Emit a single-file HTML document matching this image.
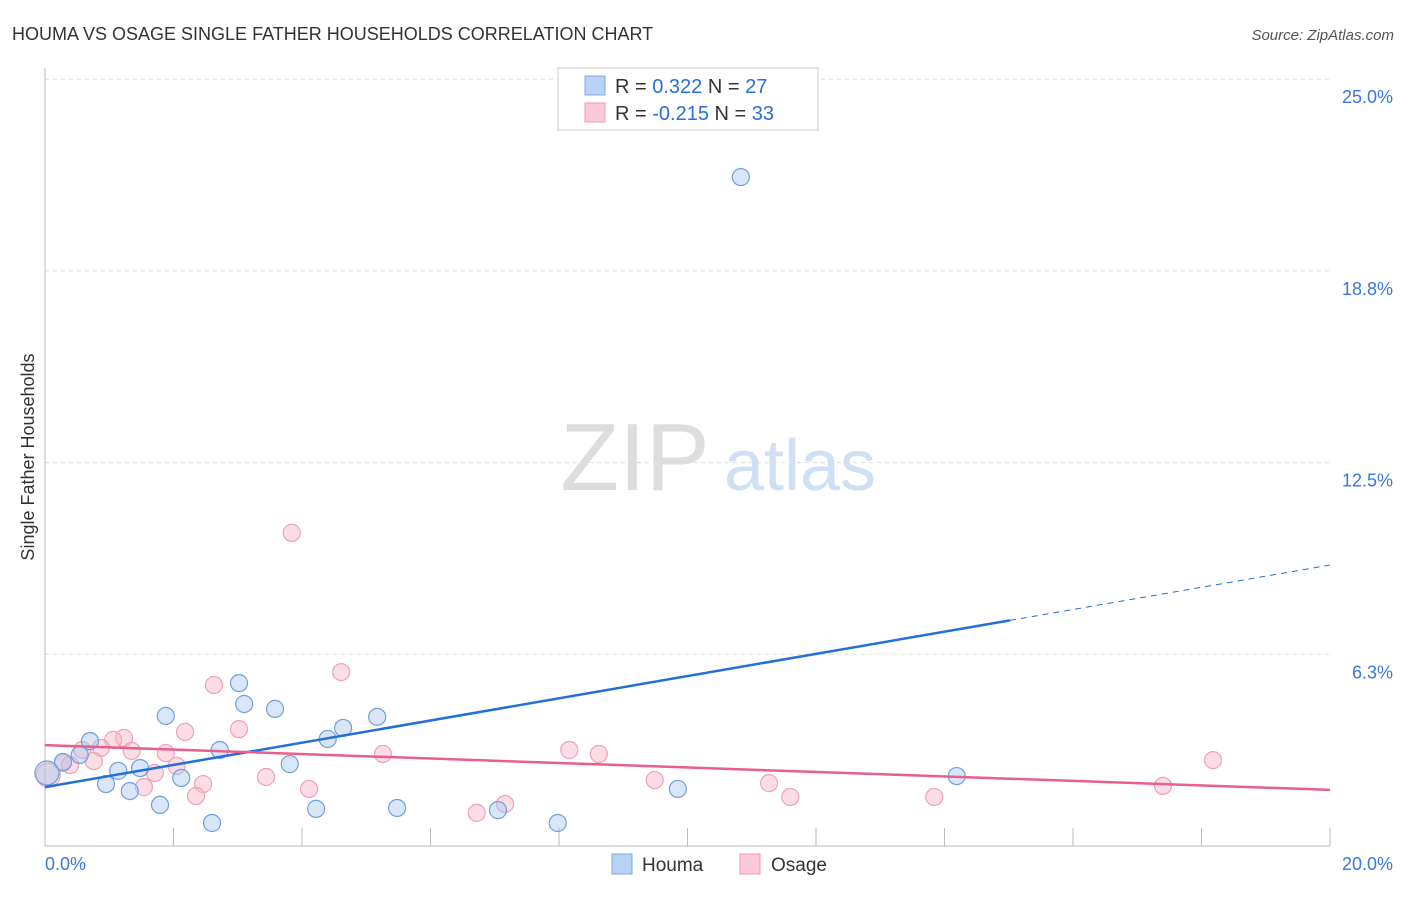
<!DOCTYPE html>
<html><head><meta charset="utf-8"><style>
body{margin:0;background:#fff;font-family:"Liberation Sans",sans-serif;}
svg text{font-family:"Liberation Sans",sans-serif;}
</style></head><body>
<svg id="c" width="1406" height="892">
<text x="12" y="40" font-size="18" fill="#333">HOUMA VS OSAGE SINGLE FATHER HOUSEHOLDS CORRELATION CHART</text>
<text x="1394" y="40" font-size="15" fill="#555" font-style="italic" text-anchor="end">Source: ZipAtlas.com</text>
<text x="34" y="457" font-size="18" fill="#333" text-anchor="middle" transform="rotate(-90 34 457)">Single Father Households</text>
<g><text x="635" y="490" font-size="96" fill="#ddd" font-family="Liberation Serif" text-anchor="middle">ZIP</text><text x="800" y="490" font-size="72" fill="#cfe0f5" text-anchor="middle">atlas</text></g>
<g id="grid"></g><g id="axes"></g><g id="marks"></g>
<g>
<rect x="558" y="68" width="260" height="62" fill="#fff" stroke="#ccc"/>
<rect x="585" y="76" width="20" height="19" fill="#b8d2f5" stroke="#7ea8e0"/>
<rect x="585" y="103" width="20" height="19" fill="#fbc9d8" stroke="#f09ab5"/>
<text x="615" y="93" font-size="20" fill="#333">R = <tspan fill="#2a6fd6"> 0.322</tspan>   N = <tspan fill="#2a6fd6">27</tspan></text>
<text x="615" y="120" font-size="20" fill="#333">R = <tspan fill="#2a6fd6">-0.215</tspan>   N = <tspan fill="#2a6fd6">33</tspan></text>
</g>
<g>
<rect x="612" y="854" width="20" height="20" fill="#b8d2f5" stroke="#7ea8e0"/>
<text x="642" y="871" font-size="19" fill="#333">Houma</text>
<rect x="740" y="854" width="20" height="20" fill="#fbc9d8" stroke="#f09ab5"/>
<text x="771" y="871" font-size="19" fill="#333">Osage</text>
</g>
</svg>
<script>
const yTicks=[6.25,12.5,18.75,25];
const yTickLabels=["6.3%","12.5%","18.8%","25.0%"];
const xTickLabels=["0.0%","20.0%"];
const houmaX=[10.83,3.02,1.88,3.10,3.58,5.17,4.64,0.70,4.40,2.72,0.54,0.28,1.14,1.48,2.12,3.81,0.95,1.32,0.03,1.79,2.60,4.22,5.48,7.05,7.98,9.85,14.19];
const houmaY=[21.81,5.31,4.24,4.63,4.47,4.21,3.85,3.42,3.49,3.13,2.97,2.74,2.45,2.54,2.22,2.67,2.02,1.79,2.38,1.34,0.75,1.21,1.24,1.17,0.75,1.86,2.28];
const osageX=[3.84,4.61,2.63,3.02,2.18,1.23,1.06,0.87,0.58,1.35,1.88,5.26,8.16,8.62,0.28,0.76,2.05,1.71,3.44,1.54,2.46,2.35,4.11,6.72,7.16,9.49,11.27,11.60,13.84,17.40,18.18,0.39,0.05];
const osageY=[10.21,5.67,5.25,3.81,3.72,3.52,3.46,3.20,3.13,3.10,3.03,3.00,3.13,3.00,2.71,2.77,2.61,2.38,2.25,1.92,2.02,1.63,1.86,1.08,1.37,2.15,2.05,1.60,1.60,1.96,2.80,2.64,2.31];
const houmaTrend=[1.92,9.16];
const osageTrend=[3.29,1.83];
const sx=v=>45+v/20*1285;
const sy=v=>846-v/6.25*191.7;
const NS="http://www.w3.org/2000/svg";
function mk(p,t,a){const e=document.createElementNS(NS,t);for(const k in a)e.setAttribute(k,a[k]);document.getElementById(p).appendChild(e);return e;}
yTicks.forEach((t,i)=>{
 const l=mk('grid','line',{x1:45,x2:1330,y1:sy(t),y2:sy(t),stroke:'#ddd','stroke-dasharray':'4,4'});
 
 
 const tx=mk('grid','text',{x:1393,y:sy(t)+24,'font-size':18,fill:'#3b78d8','text-anchor':'end'});
 tx.textContent=yTickLabels[i];
 
 
});
mk('axes','line',{x1:45,x2:45,y1:68,y2:846,stroke:'#bbb'});
mk('axes','line',{x1:45,x2:1330,y1:846,y2:846,stroke:'#bbb'});
for(let i=1;i<=10;i++){const t=mk('axes','line',{x1:sx(i*2),x2:sx(i*2),y1:828,y2:846,stroke:'#bbb'});
 
 }
const xl0=mk('axes','text',{x:45,y:870,'font-size':18,fill:'#3b78d8'});xl0.textContent=xTickLabels[0];


const xl1=mk('axes','text',{x:1393,y:870,'font-size':18,fill:'#3b78d8','text-anchor':'end'});xl1.textContent=xTickLabels[1];


function pts(X,Y,fill,stroke,name){X.forEach((x,i)=>{const c=mk('marks','circle',{cx:sx(x),cy:sy(Y[i]),r:x<0.1?12:8.5,fill:fill,stroke:stroke,'stroke-width':1.2});
 
 });}
pts(osageX,osageY,'rgba(248,180,200,0.45)','#f0a0b8','osage-point');
pts(houmaX,houmaY,'rgba(170,200,240,0.45)','#6f9fe0','houma-point');
const hy=x=>houmaTrend[0]+(houmaTrend[1]-houmaTrend[0])*x/20;
const py=x=>osageTrend[0]+(osageTrend[1]-osageTrend[0])*x/20;
const b1=mk('marks','line',{x1:sx(0),y1:sy(hy(0)),x2:sx(15.02),y2:sy(hy(15.02)),stroke:'#2270d8','stroke-width':2.5});


const b2=mk('marks','line',{x1:sx(15.02),y1:sy(hy(15.02)),x2:sx(20),y2:sy(hy(20)),stroke:'#2270d8','stroke-width':1,'stroke-dasharray':'6,5'});


const p1=mk('marks','line',{x1:sx(0),y1:sy(py(0)),x2:sx(20),y2:sy(py(20)),stroke:'#e8608a','stroke-width':2.5});


</script>
</body></html>
